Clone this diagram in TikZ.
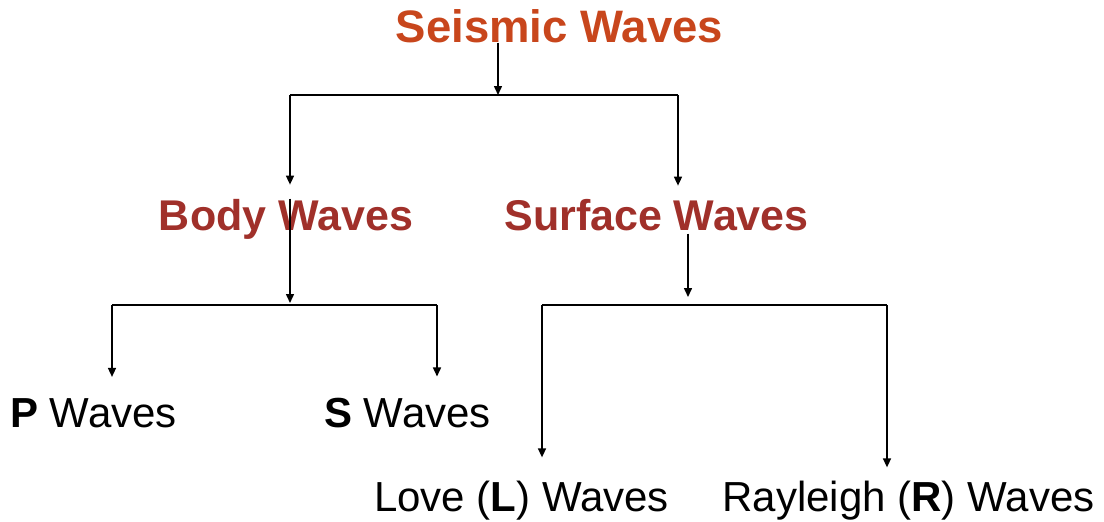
\documentclass[tikz,border=0pt]{standalone}
\usepackage{fontspec}
\setmainfont{Liberation Sans}
\usetikzlibrary{arrows.meta}
\definecolor{seisred}{RGB}{200,70,28}
\definecolor{bodyred}{RGB}{160,48,42}
\begin{document}
\begin{tikzpicture}[x=1pt, y=-1pt, line join=round, >={Triangle[length=9pt,width=8pt]},
	title/.style={anchor=base, inner sep=0pt, font=\fontsize{45.5}{52}\selectfont\bfseries, text=seisred},
	group/.style={anchor=base, inner sep=0pt, font=\fontsize{43}{50}\selectfont\bfseries, text=bodyred},
	leaf/.style={anchor=base, inner sep=0pt, font=\fontsize{42}{48}\selectfont},
	link/.style={line width=1.5pt}]
	\useasboundingbox (0,0) rectangle (1104,522);
	\node[title] (seis) at (559.5,42) {Seismic Waves};
	\node[group] (body) at (286,230) {Body Waves};
	\node[group] (surf) at (656.5,230) {Surface Waves};
	\node[leaf] (pw) at (93.5,427) {\textbf{P} Waves};
	\node[leaf] (sw) at (407.5,427) {\textbf{S} Waves};
	\node[leaf] (lw) at (521.5,511) {Love (\textbf{L}) Waves};
	\node[leaf] (rw) at (908.5,511) {Rayleigh (\textbf{R}) Waves};
	% junctions
	\path
	(498,95)coordinate(top)
	(290,95)coordinate(topL)
	(678,95)coordinate(topR)
	(290,305)coordinate(bodyJ)
	(112,305)coordinate(bodyL)
	(437,305)coordinate(bodyR)
	(688,305)coordinate(surfJ)
	(542,305)coordinate(surfL)
	(887,305)coordinate(surfR)
	;
	\draw[link,->] (seis.south -| top) -- (top);
	\draw[link] (topL) -- (topR);
	\draw[link,->,shorten >=14pt] (topL) -- (topL |- body.north);
	\draw[link,->,shorten >=13pt] (topR) -- (topR |- surf.north);
	\draw[link,->,shorten >=2pt] (body.north -| bodyJ) -- (bodyJ);
	\draw[link] (bodyL) -- (bodyR);
	\draw[link,->,shorten >=21pt] (bodyL) -- (bodyL |- pw.north);
	\draw[link,->,shorten >=21pt] (bodyR) -- (bodyR |- sw.north);
	\draw[link,->,shorten >=8pt,shorten <=3pt] (surf.south -| surfJ) -- (surfJ);
	\draw[link] (surfL) -- (surfR);
	\draw[link,->,shorten >=23pt] (surfL) -- (surfL |- lw.north);
	\draw[link,->,shorten >=13pt] (surfR) -- (surfR |- rw.north);
\end{tikzpicture}
\end{document}
